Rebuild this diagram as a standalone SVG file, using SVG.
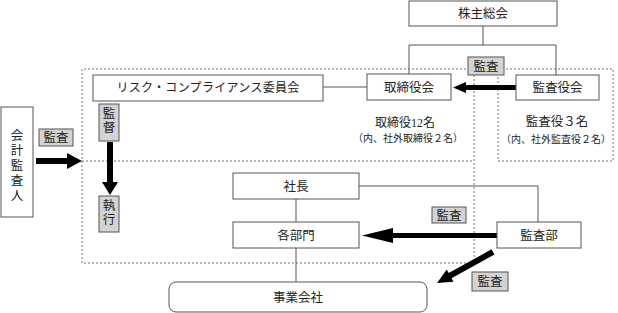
<svg xmlns="http://www.w3.org/2000/svg" width="618" height="313" viewBox="0 0 618 313">
<style>
.box{fill:#fff;stroke:#555;stroke-width:1}
.lbl{fill:#d3d3d3;stroke:#555;stroke-width:1}
.t{font-family:"Liberation Serif","Noto Sans CJK JP",serif;font-size:12.5px;fill:#222;text-anchor:middle}
.s{font-size:10px}
.ln{fill:none;stroke:#555;stroke-width:1}
.dot{fill:none;stroke:#777;stroke-width:1;stroke-dasharray:2,2}
.arr{fill:#000}
</style>
<rect width="618" height="313" fill="#fff"/>
<g id="regions">
<polyline class="dot" points="474,69 82,69 82,263 474,263 474,69"/>
<line class="dot" x1="82" y1="161" x2="474" y2="161"/>
<rect class="dot" x="498" y="69" width="115" height="92"/>
</g>
<g id="connectors">
<polyline class="ln" points="483,26 483,45"/>
<polyline class="ln" points="409,74 409,45 556,45 556,75"/>
<line class="ln" x1="323" y1="87" x2="367" y2="87"/>
<line class="ln" x1="296" y1="199" x2="296" y2="222"/>
<line class="ln" x1="296" y1="248" x2="296" y2="282"/>
<polyline class="ln" points="359,186 538,186 538,222"/>
<polygon class="arr" points="516,85 466,85 466,82 453,87.5 466,93 466,90 516,90"/>
<polygon class="arr" points="497,233 393,233 393,228 362,235.5 393,243 393,238 497,238"/>
<polygon class="arr" points="36,158 67,158 67,153 82,161 67,169 67,164 36,164"/>
<polygon class="arr" points="107,142 113,142 113,182 118,182 110,195 102,182 107,182"/>
<polygon class="arr" transform="translate(437,283) rotate(151)" points="0,0 -15,-7 -15,-3 -64,-3 -64,3 -15,3 -15,7"/>
</g>
<g id="kabunushi"><rect class="box" x="409" y="1" width="148" height="25"/><text class="t" x="483" y="18">株主総会</text></g>
<g id="torishimariyakukai"><rect class="box" x="367" y="74" width="84" height="26"/><text class="t" x="409" y="91.5">取締役会</text></g>
<g id="kansayakukai"><rect class="box" x="516" y="75" width="83" height="25"/><text class="t" x="557.5" y="92">監査役会</text></g>
<g id="risk"><rect class="box" x="93" y="75" width="230" height="26"/><text class="t" x="208" y="92" style="font-size:12px;letter-spacing:0.3px">リスク・コンプライアンス委員会</text></g>
<g id="kaikei"><rect class="box" x="1" y="107" width="32" height="110"/><text class="t" x="17"><tspan x="17" y="140">会</tspan><tspan x="17" y="155">計</tspan><tspan x="17" y="170">監</tspan><tspan x="17" y="185">査</tspan><tspan x="17" y="200">人</tspan></text></g>
<g id="shacho"><rect class="box" x="233" y="173" width="126" height="26"/><text class="t" x="296" y="190.5">社長</text></g>
<g id="kakubumon"><rect class="box" x="233" y="222" width="126" height="26"/><text class="t" x="296" y="239.5">各部門</text></g>
<g id="kansabu"><rect class="box" x="497" y="222" width="84" height="26"/><text class="t" x="539" y="239.5">監査部</text></g>
<g id="jigyo"><rect class="box" x="169" y="282" width="258" height="30" rx="7"/><text class="t" x="298" y="301.5">事業会社</text></g>
<g id="label-kansa1"><rect class="lbl" x="468" y="57" width="36" height="18"/><text class="t" x="486" y="70.5">監査</text></g>
<g id="label-kantoku"><rect class="lbl" x="99" y="104" width="20" height="37"/><text class="t"><tspan x="109" y="118">監</tspan><tspan x="109" y="132">督</tspan></text></g>
<g id="label-shikko"><rect class="lbl" x="99" y="196" width="20" height="36"/><text class="t"><tspan x="109" y="210">執</tspan><tspan x="109" y="224">行</tspan></text></g>
<g id="label-kansa2"><rect class="lbl" x="39" y="129" width="34" height="17"/><text class="t" x="56" y="142">監査</text></g>
<g id="label-kansa3"><rect class="lbl" x="432" y="207" width="34" height="16"/><text class="t" x="449" y="219.5">監査</text></g>
<g id="label-kansa4"><rect class="lbl" x="472" y="272" width="36" height="19"/><text class="t" x="490" y="286">監査</text></g>
<g id="notes">
<text class="t" x="405" y="127" style="font-size:12px">取締役12名</text>
<text class="t s" x="408" y="142">（内、社外取締役２名）</text>
<text class="t" x="557" y="126">監査役３名</text>
<text class="t s" x="556" y="143">（内、社外監査役２名）</text>
</g>
</svg>
